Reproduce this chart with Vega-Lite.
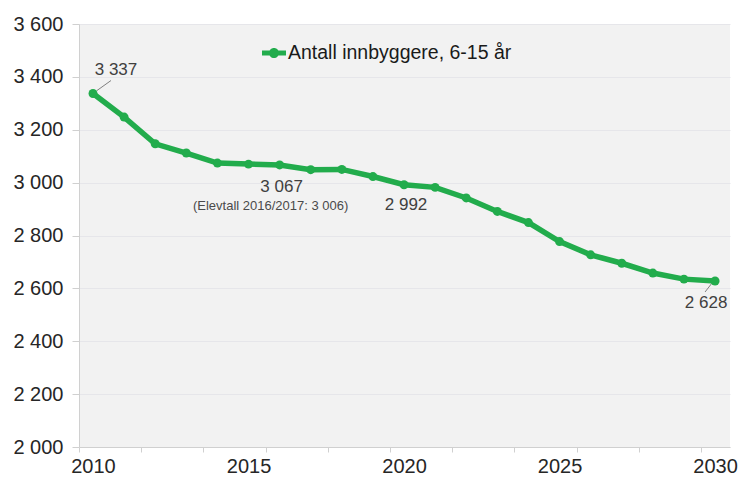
{
  "$schema": "https://vega.github.io/schema/vega-lite/v6.json",
  "width": 651,
  "height": 423,
  "autosize": {"type": "none"},
  "padding": {"left": 79, "top": 24, "right": 11, "bottom": 36},
  "background": "#ffffff",
  "config": {
    "view": {"fill": "#f2f2f2", "stroke": null},
    "font": "Liberation Sans"
  },
  "datasets": {
    "main": [
      {"year": 2010, "value": 3337, "series": "Antall innbyggere, 6-15 år"},
      {"year": 2011, "value": 3248, "series": "Antall innbyggere, 6-15 år"},
      {"year": 2012, "value": 3147, "series": "Antall innbyggere, 6-15 år"},
      {"year": 2013, "value": 3112, "series": "Antall innbyggere, 6-15 år"},
      {"year": 2014, "value": 3074, "series": "Antall innbyggere, 6-15 år"},
      {"year": 2015, "value": 3070, "series": "Antall innbyggere, 6-15 år"},
      {"year": 2016, "value": 3067, "series": "Antall innbyggere, 6-15 år"},
      {"year": 2017, "value": 3049, "series": "Antall innbyggere, 6-15 år"},
      {"year": 2018, "value": 3050, "series": "Antall innbyggere, 6-15 år"},
      {"year": 2019, "value": 3023, "series": "Antall innbyggere, 6-15 år"},
      {"year": 2020, "value": 2992, "series": "Antall innbyggere, 6-15 år"},
      {"year": 2021, "value": 2982, "series": "Antall innbyggere, 6-15 år"},
      {"year": 2022, "value": 2942, "series": "Antall innbyggere, 6-15 år"},
      {"year": 2023, "value": 2891, "series": "Antall innbyggere, 6-15 år"},
      {"year": 2024, "value": 2849, "series": "Antall innbyggere, 6-15 år"},
      {"year": 2025, "value": 2777, "series": "Antall innbyggere, 6-15 år"},
      {"year": 2026, "value": 2727, "series": "Antall innbyggere, 6-15 år"},
      {"year": 2027, "value": 2695, "series": "Antall innbyggere, 6-15 år"},
      {"year": 2028, "value": 2658, "series": "Antall innbyggere, 6-15 år"},
      {"year": 2029, "value": 2635, "series": "Antall innbyggere, 6-15 år"},
      {"year": 2030, "value": 2628, "series": "Antall innbyggere, 6-15 år"}
    ],
    "annot": [
      {"year": 2010, "value": 3337, "label": "3 337"},
      {"year": 2016, "value": 3067, "label": "3 067"},
      {"year": 2016, "value": 3067, "label": "(Elevtall 2016/2017: 3 006)"},
      {"year": 2020, "value": 2992, "label": "2 992"},
      {"year": 2030, "value": 2628, "label": "2 628"}
    ]
  },
  "resolve": {"axis": {"x": "independent"}},
  "layer": [
    {
      "data": {"name": "annot"},
      "transform": [{"filter": "datum.year == 2010"}],
      "mark": {"type": "rule", "color": "#808080", "strokeWidth": 1, "xOffset": 4, "yOffset": -3, "x2Offset": 18, "y2Offset": -13},
      "encoding": {
        "x": {"field": "year", "type": "quantitative", "scale": {"domain": [2009.55, 2030.48], "nice": false, "zero": false},
          "axis": {"orient": "bottom", "values": [2009.55, 2011.55, 2013.55, 2015.55, 2017.55, 2019.55, 2021.55, 2023.55, 2025.55, 2027.55, 2029.55], "labels": false, "domain": false, "grid": false, "ticks": true, "tickSize": 5, "tickColor": "#d0d0d0", "title": null}},
        "y": {"field": "value", "type": "quantitative", "scale": {"domain": [2000, 3600], "nice": false, "zero": false}},
        "x2": {"field": "year"},
        "y2": {"field": "value"}
      }
    },
    {
      "data": {"name": "annot"},
      "transform": [{"filter": "datum.year == 2030"}],
      "mark": {"type": "rule", "color": "#808080", "strokeWidth": 1, "xOffset": -3, "yOffset": 2, "x2Offset": -10, "y2Offset": 11},
      "encoding": {
        "x": {"field": "year", "type": "quantitative", "axis": null},
        "y": {"field": "value", "type": "quantitative"},
        "x2": {"field": "year"},
        "y2": {"field": "value"}
      }
    },
    {
      "data": {"name": "main"},
      "mark": {"type": "line", "strokeWidth": 5.5, "point": {"filled": true, "size": 80}},
      "encoding": {
        "x": {"field": "year", "type": "quantitative",
          "axis": {"orient": "bottom", "values": [2010, 2015, 2020, 2025, 2030], "format": "d", "ticks": false, "tickSize": 0, "labelPadding": 9, "labelFontSize": 20, "labelColor": "#262626", "domainColor": "#d0d0d0", "grid": false, "title": null, "labelFlush": false}},
        "y": {"field": "value", "type": "quantitative",
          "axis": {"values": [2000, 2200, 2400, 2600, 2800, 3000, 3200, 3400, 3600], "labelExpr": "replace(format(datum.value, ','), ',', ' ')", "tickSize": 7, "labelPadding": 9, "labelFontSize": 20, "labelColor": "#262626", "domainColor": "#d0d0d0", "tickColor": "#d0d0d0", "gridColor": "#e6e6ea", "title": null}},
        "color": {"field": "series", "type": "nominal", "scale": {"range": ["#22ac4c"]},
          "legend": {"orient": "none", "legendX": 183, "legendY": 17, "title": null, "padding": 0, "labelFontSize": 19.5, "labelColor": "#1a1a1a", "labelOffset": 2, "labelLimit": 0,
            "symbolType": "M-1,-0.2L1,-0.2L1,0.2L-1,0.2Z M-0.42,0A0.42,0.42,0,1,1,0.42,0A0.42,0.42,0,1,1,-0.42,0Z",
            "symbolSize": 576, "symbolStrokeWidth": 0, "symbolFillColor": "#22ac4c",
            "encode": {"symbols": {"update": {"fill": {"value": "#22ac4c"}, "strokeWidth": {"value": 0}}}}}}
      }
    },
    {
      "data": {"name": "annot"},
      "transform": [{"filter": "datum.label == '3 337'"}],
      "mark": {"type": "text", "fontSize": 17, "color": "#404040", "dx": 23, "dy": -24, "align": "center", "baseline": "middle"},
      "encoding": {"x": {"field": "year", "type": "quantitative", "axis": null}, "y": {"field": "value", "type": "quantitative"}, "text": {"field": "label"}}
    },
    {
      "data": {"name": "annot"},
      "transform": [{"filter": "datum.label == '3 067'"}],
      "mark": {"type": "text", "fontSize": 17, "color": "#404040", "dx": 2, "dy": 22, "align": "center", "baseline": "middle"},
      "encoding": {"x": {"field": "year", "type": "quantitative", "axis": null}, "y": {"field": "value", "type": "quantitative"}, "text": {"field": "label"}}
    },
    {
      "data": {"name": "annot"},
      "transform": [{"filter": "indexof(datum.label, 'Elevtall') >= 0"}],
      "mark": {"type": "text", "fontSize": 13, "color": "#4a4a4a", "dx": -9, "dy": 41, "align": "center", "baseline": "middle"},
      "encoding": {"x": {"field": "year", "type": "quantitative", "axis": null}, "y": {"field": "value", "type": "quantitative"}, "text": {"field": "label"}}
    },
    {
      "data": {"name": "annot"},
      "transform": [{"filter": "datum.label == '2 992'"}],
      "mark": {"type": "text", "fontSize": 17, "color": "#404040", "dx": 2, "dy": 20, "align": "center", "baseline": "middle"},
      "encoding": {"x": {"field": "year", "type": "quantitative", "axis": null}, "y": {"field": "value", "type": "quantitative"}, "text": {"field": "label"}}
    },
    {
      "data": {"name": "annot"},
      "transform": [{"filter": "datum.label == '2 628'"}],
      "mark": {"type": "text", "fontSize": 17, "color": "#404040", "dx": -9, "dy": 22, "align": "center", "baseline": "middle"},
      "encoding": {"x": {"field": "year", "type": "quantitative", "axis": null}, "y": {"field": "value", "type": "quantitative"}, "text": {"field": "label"}}
    }
  ]
}
